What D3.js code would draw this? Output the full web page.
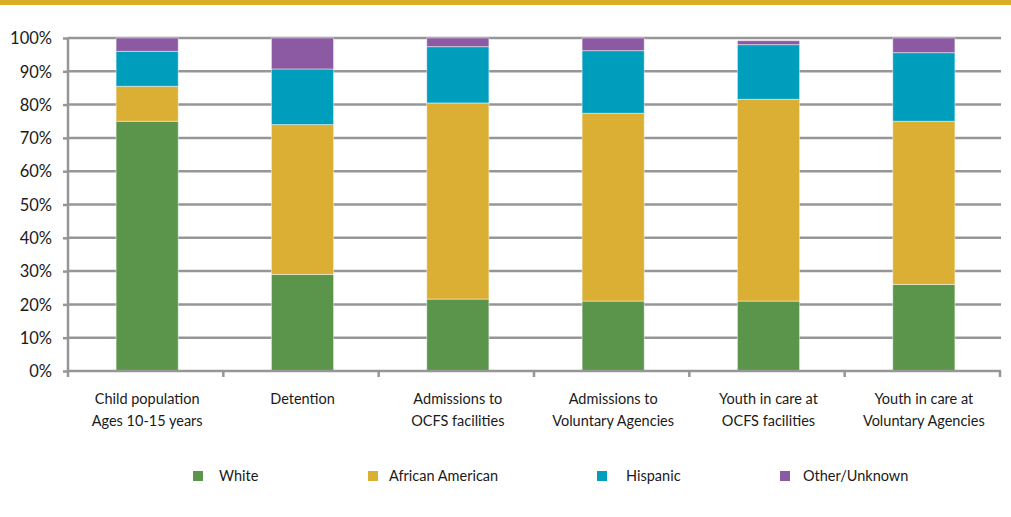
<!DOCTYPE html>
<html><head><meta charset="utf-8">
<script src="https://cdn.jsdelivr.net/npm/d3@7"></script>
<style>body{margin:0;background:#fff;} text{font-family:Lato,"Open Sans",sans-serif;fill:#1a1a1a;}</style>
</head><body>
<svg id="c" width="1011" height="517"></svg>
<script>
const categories = [
  ["Child population","Ages 10-15 years"],
  ["Detention"],
  ["Admissions to","OCFS facilities"],
  ["Admissions to","Voluntary Agencies"],
  ["Youth in care at","OCFS facilities"],
  ["Youth in care at","Voluntary Agencies"]
];
const seriesNames = ["White","African American","Hispanic","Other/Unknown"];
const seriesColors = ["#5b954b","#dbaf33","#009ebd","#8b5aa2"];
const white = [75, 29, 21.6, 21, 21, 26];
const africanAmerican = [10.5, 45, 58.9, 56.4, 60.6, 49];
const hispanic = [10.5, 16.7, 16.9, 18.8, 16.4, 20.6];
const other = [4, 9.3, 2.6, 3.8, 1.2, 4.4];
const yTicks = [0,10,20,30,40,50,60,70,80,90,100];

const svg = d3.select("#c");
svg.append("rect").attr("x",0).attr("y",0).attr("width",1011).attr("height",5).attr("fill","#dbae28");

const L=68, R=1000, T=38, B=371;
const x = d3.scaleBand().domain(d3.range(categories.length)).range([L+1.5,R+1.5]).paddingInner(0.6).paddingOuter(0.3);
const xb = d3.scaleLinear().domain([0,categories.length]).range([L,R]);
const y = d3.scaleLinear().domain([0,100]).range([B,T]);

const grid="#969696";
svg.append("g").selectAll("line").data(yTicks.filter(d=>d>0)).join("line")
  .attr("x1",L).attr("x2",R+1).attr("y1",d=>y(d)).attr("y2",d=>y(d))
  .attr("stroke",grid).attr("stroke-width",2.5);
const ya = svg.append("g").attr("transform",`translate(${L},0)`).call(d3.axisLeft(y).tickValues(yTicks).tickSize(5).tickFormat(d=>d+"%"));
ya.select(".domain").attr("stroke",grid).attr("stroke-width",2.5).attr("d",`M0,${T}V${B+1}`);
ya.selectAll(".tick line").attr("stroke",grid).attr("stroke-width",2.5);
ya.selectAll(".tick text").attr("x",-16).attr("dy","0.35em").style("font-size","16.5px").style("font-family","Lato,sans-serif").attr("fill","#1a1a1a");

const data = categories.map((c,i)=>({i, White:white[i], "African American":africanAmerican[i], Hispanic:hispanic[i], "Other/Unknown":other[i]}));
const stack = d3.stack().keys(seriesNames)(data);
svg.append("g").selectAll("g").data(stack).join("g").attr("fill",(d,k)=>seriesColors[k])
  .selectAll("rect").data(d=>d).join("rect")
  .attr("x",d=>x(d.data.i)).attr("width",x.bandwidth())
  .attr("y",d=>y(d[1])).attr("height",d=>y(d[0])-y(d[1]))
  .attr("stroke","rgba(255,255,255,0.45)").attr("stroke-width",1);

const xa = svg.append("g").attr("transform",`translate(0,${B})`);
xa.append("line").attr("x1",L-1).attr("x2",R+1).attr("stroke",grid).attr("stroke-width",2.5);
xa.selectAll("line.t").data(d3.range(categories.length+1)).join("line").attr("class","t")
  .attr("x1",d=>xb(d)).attr("x2",d=>xb(d)).attr("y1",0).attr("y2",6).attr("stroke",grid).attr("stroke-width",2.5);
const lab = svg.append("g").selectAll("text").data(categories).join("text")
  .attr("text-anchor","middle").attr("x",(d,i)=>x(i)+x.bandwidth()/2).attr("y",404)
  .style("font-size","14.5px");
lab.selectAll("tspan").data(d=>d).join("tspan").attr("x",function(){return this.parentNode.getAttribute("x");})
  .attr("dy",(d,j)=>j?22:0).text(d=>d);

const lx=[193,368,597,780];
const lg = svg.append("g").selectAll("g").data(seriesNames).join("g").attr("transform",(d,k)=>`translate(${lx[k]},471)`);
lg.append("rect").attr("width",10).attr("height",10).attr("fill",(d,k)=>seriesColors[k]);
lg.append("text").attr("x",(d,k)=>[26,21,29,23][k]).attr("y",10).style("font-size","14.5px").text(d=>d);
</script>
</body></html>
